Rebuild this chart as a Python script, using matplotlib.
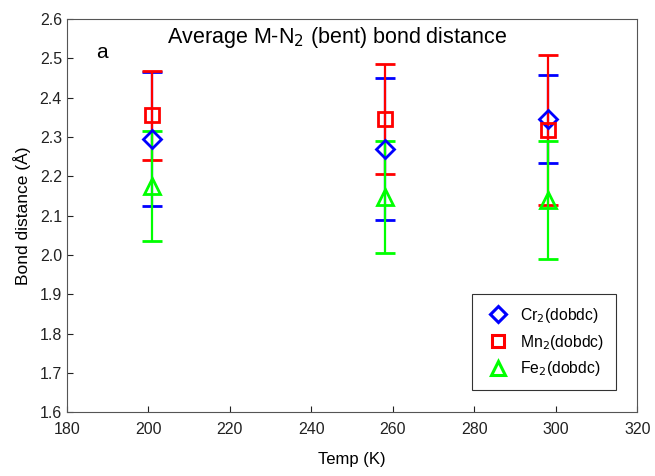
import matplotlib.pyplot as plt
from matplotlib.lines import Line2D

plt.rcParams["font.family"] = ["Liberation Sans", "DejaVu Sans"]

temps = [201, 258, 298]

cr_dist = [2.295, 2.270, 2.345]
cr_err = [0.170, 0.180, 0.112]

mn_dist = [2.355, 2.345, 2.318]
mn_err = [0.113, 0.140, 0.190]

fe_dist = [2.175, 2.148, 2.140]
fe_err = [0.140, 0.143, 0.150]

series = [
    ("Cr$_2$(dobdc)", cr_dist, cr_err, "#0000ff", "D", 9),
    ("Mn$_2$(dobdc)", mn_dist, mn_err, "#ff0000", "s", 10),
    ("Fe$_2$(dobdc)", fe_dist, fe_err, "#00ff00", "^", 11),
]

fig = plt.figure(figsize=(6.55, 4.76), dpi=100)
ax = fig.add_axes([0.102, 0.134, 0.871, 0.826])

handles = []
for label, y, err, color, marker, ms in series:
    ax.errorbar(temps, y, yerr=err, fmt=marker, color=color, ecolor=color,
                mfc="none", mec=color, mew=2, ms=ms, elinewidth=1.6,
                capsize=7, capthick=1.6)
    handles.append(Line2D([], [], ls="none", marker=marker, mfc="none", mec=color,
                          mew=2.2, ms=ms - 1, label=label))

ax.set_xlim(180, 320)
ax.set_ylim(1.6, 2.6)
ax.set_xticks(range(180, 321, 20))
ax.set_yticks([1.6 + 0.1 * i for i in range(11)])
ax.set_yticklabels([f"{1.6 + 0.1 * i:.1f}" for i in range(11)])
ax.tick_params(direction="in", labelsize=11.5, colors="#222222", length=4)
ax.tick_params(axis="x", pad=7)
for s in ax.spines.values():
    s.set_color("#555555")

ax.set_xlabel("Temp (K)", fontsize=12, labelpad=11)
ax.set_ylabel("Bond distance (Å)", fontsize=12.5, labelpad=6)

ax.text(0.474, 0.985, "Average M-N$_2$ (bent) bond distance", transform=ax.transAxes,
        ha="center", va="top", fontsize=15.5)
ax.text(0.052, 0.94, "a", transform=ax.transAxes, ha="left", va="top", fontsize=15)

leg = ax.legend(handles=handles, loc="lower right", bbox_to_anchor=(0.976, 0.036),
                fontsize=11.3, frameon=True, fancybox=False, edgecolor="black",
                borderpad=0.75, labelspacing=0.5, handletextpad=0.5, handlelength=1.8)
leg.get_frame().set_linewidth(0.8)

fig.savefig("out.png", dpi=100)
